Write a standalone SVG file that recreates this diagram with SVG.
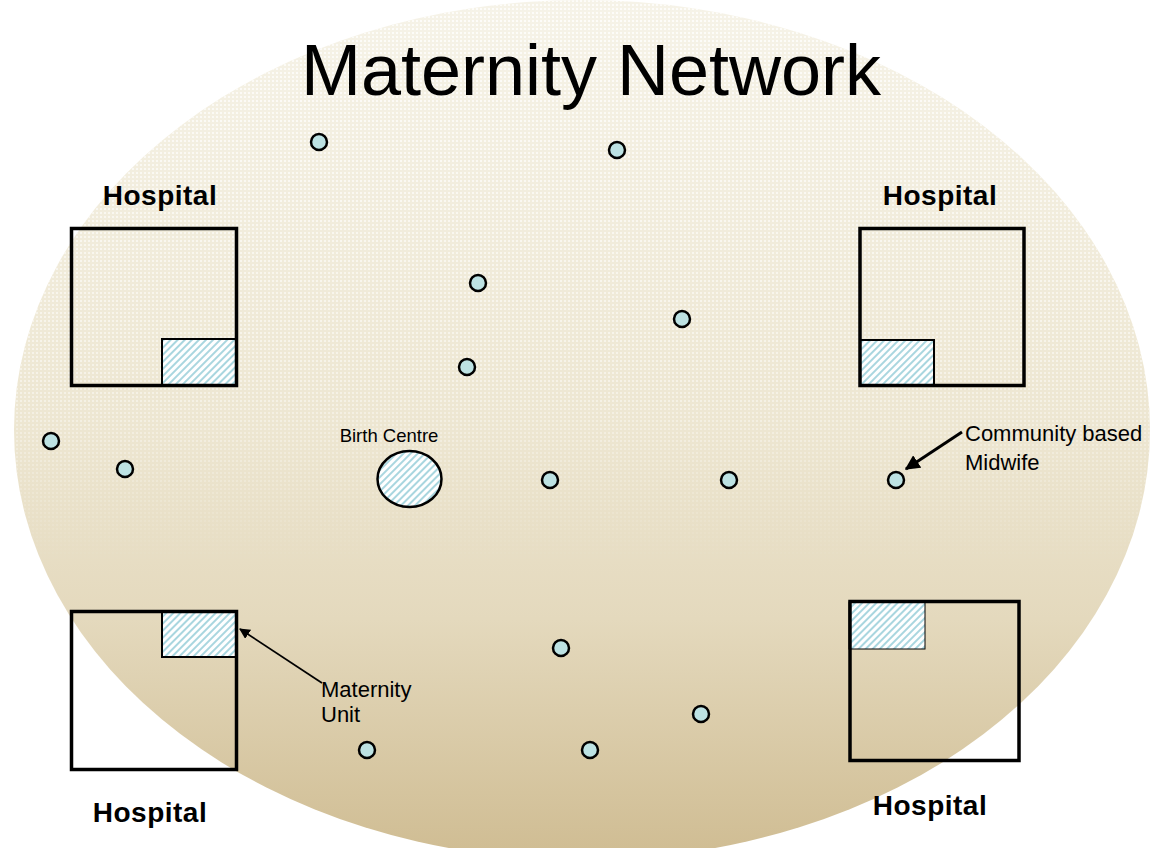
<svg xmlns="http://www.w3.org/2000/svg" width="1159" height="848" viewBox="0 0 1159 848">
  <style>
    .hosp { fill: none; stroke: #000; stroke-width: 3.5; }
    .unit { fill: url(#hatch); stroke: #000; stroke-width: 2; }
    .mid { fill: #bde2e3; stroke: #000; stroke-width: 2.5; }
    .hlabel { font-family: "Liberation Sans", Arial, sans-serif; font-weight: bold; font-size: 28px; letter-spacing: 0.5px; fill: #000; }
    .label { font-family: "Liberation Sans", Arial, sans-serif; font-size: 22px; fill: #000; }
    .title { font-family: "Liberation Sans", Arial, sans-serif; font-size: 72px; fill: #000; }
  </style>
  <defs>
    <linearGradient id="bg" x1="0" y1="0" x2="0" y2="1">
      <stop offset="0" stop-color="#f6f3e8"/>
      <stop offset="0.5" stop-color="#ede6d1"/>
      <stop offset="0.72" stop-color="#e4d9bd"/>
      <stop offset="1" stop-color="#cfbc92"/>
    </linearGradient>
    <pattern id="dots" width="4" height="4" patternUnits="userSpaceOnUse">
      <rect x="0" y="0" width="2" height="2" fill="#ffffff"/>
    </pattern>
    <linearGradient id="fade" x1="0" y1="0" x2="0" y2="1">
      <stop offset="0" stop-color="#fff" stop-opacity="0.75"/>
      <stop offset="0.45" stop-color="#fff" stop-opacity="0.45"/>
      <stop offset="0.66" stop-color="#fff" stop-opacity="0"/>
    </linearGradient>
    <mask id="dotmask">
      <ellipse cx="582" cy="430" rx="568" ry="430" fill="url(#fade)"/>
    </mask>
    <pattern id="hatch" width="5" height="5" patternUnits="userSpaceOnUse" patternTransform="rotate(45)">
      <rect width="5" height="5" fill="#ffffff"/>
      <rect x="0" y="0" width="2" height="5" fill="#a9d6df"/>
    </pattern>
    <marker id="arrowBig" viewBox="0 0 10 10" refX="9" refY="5" markerWidth="5" markerHeight="5" orient="auto">
      <path d="M0,0 L10,5 L0,10 Z" fill="#000"/>
    </marker>
    <marker id="arrowSmall" viewBox="0 0 10 10" refX="9" refY="5" markerWidth="6" markerHeight="6" orient="auto">
      <path d="M0,0 L10,5 L0,10 Z" fill="#000"/>
    </marker>
  </defs>

  <rect width="1159" height="848" fill="#ffffff"/>

  <!-- network area -->
  <g id="network-area">
    <ellipse cx="582" cy="430" rx="568" ry="430" fill="url(#bg)"/>
    <ellipse cx="582" cy="430" rx="568" ry="430" fill="url(#dots)" mask="url(#dotmask)"/>
  </g>

  <text class="title" x="591" y="95" text-anchor="middle">Maternity Network</text>

  <!-- hospitals with maternity units -->
  <g id="hospital-tl">
    <text class="hlabel" x="160" y="205" text-anchor="middle">Hospital</text>
    <rect class="unit" x="162" y="339" width="74" height="47"/>
    <rect class="hosp" x="71.5" y="228.5" width="165" height="157"/>
  </g>
  <g id="hospital-tr">
    <text class="hlabel" x="940" y="205" text-anchor="middle">Hospital</text>
    <rect class="unit" x="860" y="340" width="74" height="46"/>
    <rect class="hosp" x="860" y="228.5" width="164" height="157"/>
  </g>
  <g id="hospital-bl">
    <rect class="unit" x="162" y="611" width="74" height="46"/>
    <rect class="hosp" x="71.5" y="611.5" width="165" height="158"/>
    <text class="hlabel" x="150" y="822" text-anchor="middle">Hospital</text>
  </g>
  <g id="hospital-br">
    <rect class="unit" x="849" y="602" width="76" height="47" style="stroke-width:1"/>
    <rect class="hosp" x="850" y="601.5" width="169" height="159"/>
    <text class="hlabel" x="930" y="815" text-anchor="middle">Hospital</text>
  </g>

  <!-- birth centre -->
  <g id="birth-centre">
    <text class="label" x="389" y="442" text-anchor="middle" style="font-size:18.5px">Birth Centre</text>
    <ellipse cx="409.5" cy="479" rx="32" ry="28" fill="url(#hatch)" stroke="#000" stroke-width="2.5"/>
  </g>

  <!-- community based midwives -->
  <g id="midwives">
    <circle class="mid" cx="319" cy="142" r="8"/>
    <circle class="mid" cx="617" cy="150" r="8"/>
    <circle class="mid" cx="478" cy="283" r="8"/>
    <circle class="mid" cx="682" cy="319" r="8"/>
    <circle class="mid" cx="467" cy="367" r="8"/>
    <circle class="mid" cx="51" cy="441" r="8"/>
    <circle class="mid" cx="125" cy="469" r="8"/>
    <circle class="mid" cx="550" cy="480" r="8"/>
    <circle class="mid" cx="729" cy="480" r="8"/>
    <circle class="mid" cx="896" cy="480" r="8"/>
    <circle class="mid" cx="561" cy="648" r="8"/>
    <circle class="mid" cx="701" cy="714" r="8"/>
    <circle class="mid" cx="367" cy="750" r="8"/>
    <circle class="mid" cx="590" cy="750" r="8"/>
  </g>

  <!-- callout labels -->
  <g id="label-midwife">
    <text class="label" x="965" y="441">Community based</text>
    <text class="label" x="965" y="470">Midwife</text>
  </g>
  <g id="label-unit">
    <text class="label" x="321" y="697">Maternity</text>
    <text class="label" x="321" y="722">Unit</text>
  </g>

  <!-- connectors -->
  <g id="connectors" fill="none" stroke="#000">
    <line x1="962" y1="432" x2="906" y2="469" stroke-width="3" marker-end="url(#arrowBig)"/>
    <line x1="322" y1="683" x2="240" y2="629" stroke-width="1.8" marker-end="url(#arrowSmall)"/>
  </g>
</svg>
